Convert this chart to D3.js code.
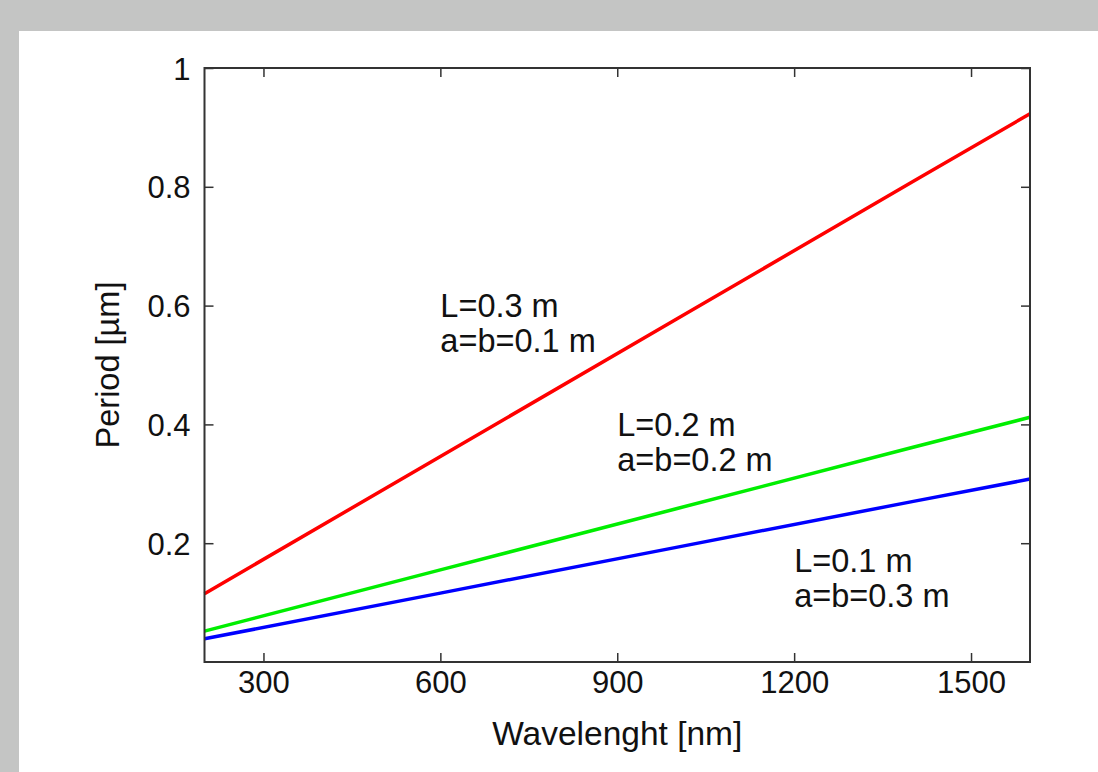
<!DOCTYPE html>
<html>
<head>
<meta charset="utf-8">
<script src="https://cdn.jsdelivr.net/npm/d3@7"></script>
<style>
  body { margin: 0; background: #c4c5c4; }
  svg { display: block; }
  text { font-family: "Liberation Sans", Arial, Helvetica, sans-serif; fill: #111; }
</style>
</head>
<body>
<div id="chart"></div>
<script>
// wavelength samples (nm)
var wavelengths = [200, 600, 1000, 1400, 1600]
// period in um for each geometry
var periodRed = [0.115, 0.346, 0.577, 0.808, 0.923]
var periodGreen = [0.052, 0.155, 0.258, 0.361, 0.412]
var periodBlue = [0.039, 0.116, 0.193, 0.270, 0.308]

var xTicks = [300, 600, 900, 1200, 1500]
var yTicks = [0.2, 0.4, 0.6, 0.8, 1]

// annotation anchors in data space
var labelPos = [[600, 0.581], [900, 0.380], [1200, 0.152]]
var labelL = ['L=0.3 m', 'L=0.2 m', 'L=0.1 m']
var labelAB = ['a=b=0.1 m', 'a=b=0.2 m', 'a=b=0.3 m']

var series = [
  { values: periodRed, color: '#ff0000' },
  { values: periodGreen, color: '#00ee00' },
  { values: periodBlue, color: '#0000ff' }
]

var W = 1098, H = 772
var plot = { left: 204.5, right: 1030, top: 68, bottom: 662 }

var svg = d3.select('#chart').append('svg').attr('width', W).attr('height', H)

svg.append('rect').attr('width', W).attr('height', H).attr('fill', '#c4c5c4')
svg.append('rect').attr('x', 19).attr('y', 31).attr('width', W - 19).attr('height', H - 31).attr('fill', '#ffffff')

var x = d3.scaleLinear().domain([200, 1600]).range([plot.left, plot.right])
var y = d3.scaleLinear().domain([0, 1]).range([plot.bottom, plot.top])

var tickLen = 9
var axisColor = '#333'
var tickFont = '31px'

// bottom axis (ticks pointing in)
var gx = svg.append('g').attr('transform', 'translate(0,' + plot.bottom + ')')
  .call(d3.axisBottom(x).tickValues(xTicks).tickSizeInner(-tickLen).tickSizeOuter(0).tickPadding(0).tickFormat(d3.format('d')))
gx.select('.domain').remove()
gx.selectAll('line').attr('stroke', axisColor).attr('stroke-width', 1.5)
gx.selectAll('text').attr('y', 31).attr('dy', 0).style('font-size', tickFont).style('fill', '#111')

// top axis mirror ticks
var gxt = svg.append('g').attr('transform', 'translate(0,' + plot.top + ')')
  .call(d3.axisTop(x).tickValues(xTicks).tickSizeInner(-tickLen).tickSizeOuter(0).tickFormat(''))
gxt.select('.domain').remove()
gxt.selectAll('line').attr('stroke', axisColor).attr('stroke-width', 1.5)

// left axis
var gy = svg.append('g').attr('transform', 'translate(' + plot.left + ',0)')
  .call(d3.axisLeft(y).tickValues(yTicks).tickSizeInner(-tickLen).tickSizeOuter(0).tickPadding(0).tickFormat(function(d) { return d === 1 ? '1' : d3.format('.1f')(d) }))
gy.select('.domain').remove()
gy.selectAll('line').attr('stroke', axisColor).attr('stroke-width', 1.5)
gy.selectAll('text').attr('x', -14).attr('dy', '0.36em').style('font-size', tickFont).style('fill', '#111')

// right axis mirror ticks
var gyr = svg.append('g').attr('transform', 'translate(' + plot.right + ',0)')
  .call(d3.axisRight(y).tickValues(yTicks).tickSizeInner(-tickLen).tickSizeOuter(0).tickFormat(''))
gyr.select('.domain').remove()
gyr.selectAll('line').attr('stroke', axisColor).attr('stroke-width', 1.5)

// lines
var line = d3.line()
  .x(function(d, i) { return x(wavelengths[i]) })
  .y(function(d) { return y(d) })

svg.append('g').attr('fill', 'none')
  .selectAll('.path-line')
  .data(series)
  .enter()
  .append('path')
  .attr('class', 'path-line')
  .attr('d', function(d) { return line(d.values) })
  .style('stroke', function(d) { return d.color })
  .style('stroke-width', 3.5)

// frame
svg.append('rect')
  .attr('x', plot.left).attr('y', plot.top)
  .attr('width', plot.right - plot.left).attr('height', plot.bottom - plot.top)
  .attr('fill', 'none').attr('stroke', axisColor).attr('stroke-width', 2)

// annotations
var lab = svg.append('g').style('font-size', '32.5px')
labelPos.forEach(function(p, i) {
  lab.append('text').attr('x', x(p[0])).attr('y', y(p[1])).text(labelL[i])
  lab.append('text').attr('x', x(p[0])).attr('y', y(p[1]) + 35).text(labelAB[i])
})

// axis titles
svg.append('text')
  .attr('x', (plot.left + plot.right) / 2).attr('y', 745)
  .attr('text-anchor', 'middle').style('font-size', '33.5px')
  .text('Wavelenght [nm]')

svg.append('text')
  .attr('transform', 'translate(119,' + (plot.top + plot.bottom) / 2 + ') rotate(-90)')
  .attr('text-anchor', 'middle').style('font-size', '32.5px')
  .text('Period [µm]')
</script>
</body>
</html>
